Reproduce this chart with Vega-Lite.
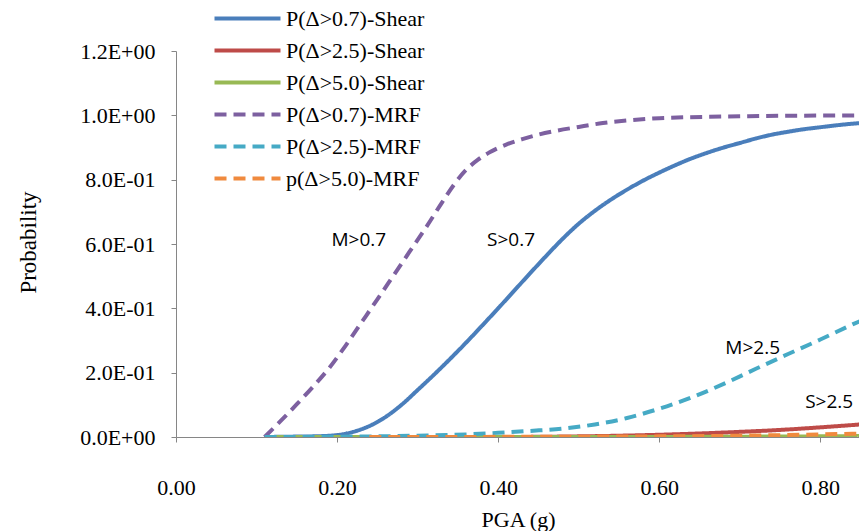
{
  "$schema": "https://vega.github.io/schema/vega-lite/v6.json",
  "width": 683,
  "height": 386,
  "autosize": "none",
  "padding": {"left": 176, "top": 51, "right": 0, "bottom": 94},
  "background": "white",
  "config": {"view": {"stroke": null}},
  "datasets": {
    "curves": [
      {"series": "P(Δ>0.7)-Shear", "pga": 0.11, "p": 0},
      {"series": "P(Δ>0.7)-Shear", "pga": 0.14, "p": 0.001},
      {"series": "P(Δ>0.7)-Shear", "pga": 0.17, "p": 0.002},
      {"series": "P(Δ>0.7)-Shear", "pga": 0.2, "p": 0.006},
      {"series": "P(Δ>0.7)-Shear", "pga": 0.22, "p": 0.016},
      {"series": "P(Δ>0.7)-Shear", "pga": 0.24, "p": 0.034},
      {"series": "P(Δ>0.7)-Shear", "pga": 0.26, "p": 0.062},
      {"series": "P(Δ>0.7)-Shear", "pga": 0.28, "p": 0.1},
      {"series": "P(Δ>0.7)-Shear", "pga": 0.3, "p": 0.146},
      {"series": "P(Δ>0.7)-Shear", "pga": 0.32, "p": 0.193},
      {"series": "P(Δ>0.7)-Shear", "pga": 0.34, "p": 0.242},
      {"series": "P(Δ>0.7)-Shear", "pga": 0.36, "p": 0.293},
      {"series": "P(Δ>0.7)-Shear", "pga": 0.38, "p": 0.346},
      {"series": "P(Δ>0.7)-Shear", "pga": 0.4, "p": 0.4},
      {"series": "P(Δ>0.7)-Shear", "pga": 0.42, "p": 0.455},
      {"series": "P(Δ>0.7)-Shear", "pga": 0.44, "p": 0.51},
      {"series": "P(Δ>0.7)-Shear", "pga": 0.46, "p": 0.564},
      {"series": "P(Δ>0.7)-Shear", "pga": 0.48, "p": 0.616},
      {"series": "P(Δ>0.7)-Shear", "pga": 0.5, "p": 0.663},
      {"series": "P(Δ>0.7)-Shear", "pga": 0.52, "p": 0.703},
      {"series": "P(Δ>0.7)-Shear", "pga": 0.54, "p": 0.738},
      {"series": "P(Δ>0.7)-Shear", "pga": 0.56, "p": 0.769},
      {"series": "P(Δ>0.7)-Shear", "pga": 0.58, "p": 0.797},
      {"series": "P(Δ>0.7)-Shear", "pga": 0.6, "p": 0.822},
      {"series": "P(Δ>0.7)-Shear", "pga": 0.62, "p": 0.845},
      {"series": "P(Δ>0.7)-Shear", "pga": 0.64, "p": 0.866},
      {"series": "P(Δ>0.7)-Shear", "pga": 0.66, "p": 0.884},
      {"series": "P(Δ>0.7)-Shear", "pga": 0.68, "p": 0.9},
      {"series": "P(Δ>0.7)-Shear", "pga": 0.7, "p": 0.914},
      {"series": "P(Δ>0.7)-Shear", "pga": 0.72, "p": 0.928},
      {"series": "P(Δ>0.7)-Shear", "pga": 0.74, "p": 0.94},
      {"series": "P(Δ>0.7)-Shear", "pga": 0.76, "p": 0.949},
      {"series": "P(Δ>0.7)-Shear", "pga": 0.78, "p": 0.957},
      {"series": "P(Δ>0.7)-Shear", "pga": 0.8, "p": 0.963},
      {"series": "P(Δ>0.7)-Shear", "pga": 0.82, "p": 0.969},
      {"series": "P(Δ>0.7)-Shear", "pga": 0.84, "p": 0.974},
      {"series": "P(Δ>0.7)-Shear", "pga": 0.86, "p": 0.978},

      {"series": "P(Δ>2.5)-Shear", "pga": 0.11, "p": 0},
      {"series": "P(Δ>2.5)-Shear", "pga": 0.4, "p": 0},
      {"series": "P(Δ>2.5)-Shear", "pga": 0.5, "p": 0.002},
      {"series": "P(Δ>2.5)-Shear", "pga": 0.55, "p": 0.004},
      {"series": "P(Δ>2.5)-Shear", "pga": 0.6, "p": 0.007},
      {"series": "P(Δ>2.5)-Shear", "pga": 0.65, "p": 0.011},
      {"series": "P(Δ>2.5)-Shear", "pga": 0.7, "p": 0.016},
      {"series": "P(Δ>2.5)-Shear", "pga": 0.75, "p": 0.022},
      {"series": "P(Δ>2.5)-Shear", "pga": 0.8, "p": 0.03},
      {"series": "P(Δ>2.5)-Shear", "pga": 0.86, "p": 0.041},

      {"series": "P(Δ>5.0)-Shear", "pga": 0.11, "p": 0},
      {"series": "P(Δ>5.0)-Shear", "pga": 0.5, "p": 0},
      {"series": "P(Δ>5.0)-Shear", "pga": 0.7, "p": 0.001},
      {"series": "P(Δ>5.0)-Shear", "pga": 0.86, "p": 0.003},

      {"series": "P(Δ>0.7)-MRF", "pga": 0.11, "p": 0},
      {"series": "P(Δ>0.7)-MRF", "pga": 0.13, "p": 0.05},
      {"series": "P(Δ>0.7)-MRF", "pga": 0.15, "p": 0.102},
      {"series": "P(Δ>0.7)-MRF", "pga": 0.17, "p": 0.156},
      {"series": "P(Δ>0.7)-MRF", "pga": 0.19, "p": 0.214},
      {"series": "P(Δ>0.7)-MRF", "pga": 0.21, "p": 0.282},
      {"series": "P(Δ>0.7)-MRF", "pga": 0.23, "p": 0.355},
      {"series": "P(Δ>0.7)-MRF", "pga": 0.25, "p": 0.428},
      {"series": "P(Δ>0.7)-MRF", "pga": 0.27, "p": 0.502},
      {"series": "P(Δ>0.7)-MRF", "pga": 0.29, "p": 0.576},
      {"series": "P(Δ>0.7)-MRF", "pga": 0.31, "p": 0.65},
      {"series": "P(Δ>0.7)-MRF", "pga": 0.33, "p": 0.728},
      {"series": "P(Δ>0.7)-MRF", "pga": 0.345, "p": 0.784},
      {"series": "P(Δ>0.7)-MRF", "pga": 0.36, "p": 0.83},
      {"series": "P(Δ>0.7)-MRF", "pga": 0.375, "p": 0.862},
      {"series": "P(Δ>0.7)-MRF", "pga": 0.39, "p": 0.886},
      {"series": "P(Δ>0.7)-MRF", "pga": 0.41, "p": 0.909},
      {"series": "P(Δ>0.7)-MRF", "pga": 0.43, "p": 0.926},
      {"series": "P(Δ>0.7)-MRF", "pga": 0.45, "p": 0.94},
      {"series": "P(Δ>0.7)-MRF", "pga": 0.47, "p": 0.951},
      {"series": "P(Δ>0.7)-MRF", "pga": 0.5, "p": 0.964},
      {"series": "P(Δ>0.7)-MRF", "pga": 0.53, "p": 0.976},
      {"series": "P(Δ>0.7)-MRF", "pga": 0.56, "p": 0.984},
      {"series": "P(Δ>0.7)-MRF", "pga": 0.6, "p": 0.991},
      {"series": "P(Δ>0.7)-MRF", "pga": 0.7, "p": 0.997},
      {"series": "P(Δ>0.7)-MRF", "pga": 0.86, "p": 1.0},

      {"series": "P(Δ>2.5)-MRF", "pga": 0.11, "p": 0},
      {"series": "P(Δ>2.5)-MRF", "pga": 0.2, "p": 0.001},
      {"series": "P(Δ>2.5)-MRF", "pga": 0.3, "p": 0.004},
      {"series": "P(Δ>2.5)-MRF", "pga": 0.36, "p": 0.008},
      {"series": "P(Δ>2.5)-MRF", "pga": 0.4, "p": 0.013},
      {"series": "P(Δ>2.5)-MRF", "pga": 0.44, "p": 0.019},
      {"series": "P(Δ>2.5)-MRF", "pga": 0.48, "p": 0.026},
      {"series": "P(Δ>2.5)-MRF", "pga": 0.52, "p": 0.039},
      {"series": "P(Δ>2.5)-MRF", "pga": 0.56, "p": 0.059},
      {"series": "P(Δ>2.5)-MRF", "pga": 0.6, "p": 0.088},
      {"series": "P(Δ>2.5)-MRF", "pga": 0.64, "p": 0.123},
      {"series": "P(Δ>2.5)-MRF", "pga": 0.68, "p": 0.165},
      {"series": "P(Δ>2.5)-MRF", "pga": 0.72, "p": 0.212},
      {"series": "P(Δ>2.5)-MRF", "pga": 0.76, "p": 0.258},
      {"series": "P(Δ>2.5)-MRF", "pga": 0.8, "p": 0.303},
      {"series": "P(Δ>2.5)-MRF", "pga": 0.84, "p": 0.35},
      {"series": "P(Δ>2.5)-MRF", "pga": 0.86, "p": 0.372},

      {"series": "p(Δ>5.0)-MRF", "pga": 0.24, "p": 0},
      {"series": "p(Δ>5.0)-MRF", "pga": 0.5, "p": 0.001},
      {"series": "p(Δ>5.0)-MRF", "pga": 0.6, "p": 0.002},
      {"series": "p(Δ>5.0)-MRF", "pga": 0.7, "p": 0.004},
      {"series": "p(Δ>5.0)-MRF", "pga": 0.8, "p": 0.008},
      {"series": "p(Δ>5.0)-MRF", "pga": 0.86, "p": 0.011}
    ],
    "labels": [
      {"text": "M>0.7", "pga": 0.227, "p": 0.612},
      {"text": "S>0.7", "pga": 0.416, "p": 0.612},
      {"text": "M>2.5", "pga": 0.716, "p": 0.277},
      {"text": "S>2.5", "pga": 0.811, "p": 0.109}
    ]
  },
  "layer": [
    {
      "data": {"name": "curves"},
      "mark": {"type": "line", "strokeWidth": 4, "clip": true, "interpolate": "monotone"},
      "encoding": {
        "x": {
          "field": "pga", "type": "quantitative",
          "scale": {"domain": [0, 0.848], "nice": false, "zero": false},
          "axis": {
            "title": "PGA (g)", "values": [0, 0.2, 0.4, 0.6, 0.8], "format": ".2f",
            "grid": false, "domainColor": "#868686", "tickColor": "#868686", "tickSize": 5,
            "labelFont": "Liberation Serif", "labelFontSize": 22, "labelColor": "#000000", "labelPadding": 35,
            "labelFlush": false, "labelOverlap": false,
            "titleFont": "Liberation Serif", "titleFontSize": 22, "titleFontWeight": "normal", "titleColor": "#000000",
            "titleX": 342, "titleY": 82, "titleBaseline": "middle", "titleAnchor": "middle"
          }
        },
        "y": {
          "field": "p", "type": "quantitative",
          "scale": {"domain": [0, 1.2], "nice": false},
          "axis": {
            "title": "Probability", "values": [0, 0.2, 0.4, 0.6, 0.8, 1.0, 1.2],
            "labelExpr": "upper(replace(replace(format(datum.value, '.1e'), 'e+0', 'e+00'), 'e-1', 'e-01'))",
            "grid": false, "domainColor": "#868686", "tickColor": "#868686", "tickSize": 5,
            "labelFont": "Liberation Serif", "labelFontSize": 22, "labelColor": "#000000", "labelPadding": 16,
            "labelFlush": false, "labelOverlap": false,
            "titleFont": "Liberation Serif", "titleFontSize": 23, "titleFontWeight": "normal", "titleColor": "#000000",
            "titleX": -148, "titleY": 191, "titleAngle": -90, "titleBaseline": "middle", "titleAnchor": "middle"
          }
        },
        "color": {
          "field": "series", "type": "nominal",
          "scale": {
            "domain": ["P(Δ>0.7)-Shear", "P(Δ>2.5)-Shear", "P(Δ>5.0)-Shear", "P(Δ>0.7)-MRF", "P(Δ>2.5)-MRF", "p(Δ>5.0)-MRF"],
            "range": ["#4A7EBB", "#BE4B48", "#98B954", "#7D60A0", "#46AAC5", "#F08A3E"]
          },
          "legend": {
            "title": null, "orient": "none", "legendX": 53, "legendY": -51, "padding": 0,
            "symbolType": "M-2,0H2", "symbolSize": 1089, "symbolStrokeWidth": 4,
            "labelFont": "Liberation Serif", "labelFontSize": 22, "labelColor": "#000000",
            "labelOffset": 20, "rowPadding": 2, "labelLimit": 400
          }
        },
        "strokeDash": {
          "field": "series", "type": "nominal",
          "scale": {
            "domain": ["P(Δ>0.7)-Shear", "P(Δ>2.5)-Shear", "P(Δ>5.0)-Shear", "P(Δ>0.7)-MRF", "P(Δ>2.5)-MRF", "p(Δ>5.0)-MRF"],
            "range": [[1, 0], [1, 0], [1, 0], [12, 7], [12, 7], [12, 7]]
          },
          "legend": null
        }
      }
    },
    {
      "data": {"name": "labels"},
      "mark": {"type": "text", "font": "Open Sans", "fontSize": 19, "color": "#000000", "align": "center", "baseline": "middle"},
      "encoding": {
        "x": {"field": "pga", "type": "quantitative"},
        "y": {"field": "p", "type": "quantitative"},
        "text": {"field": "text"}
      }
    }
  ]
}
